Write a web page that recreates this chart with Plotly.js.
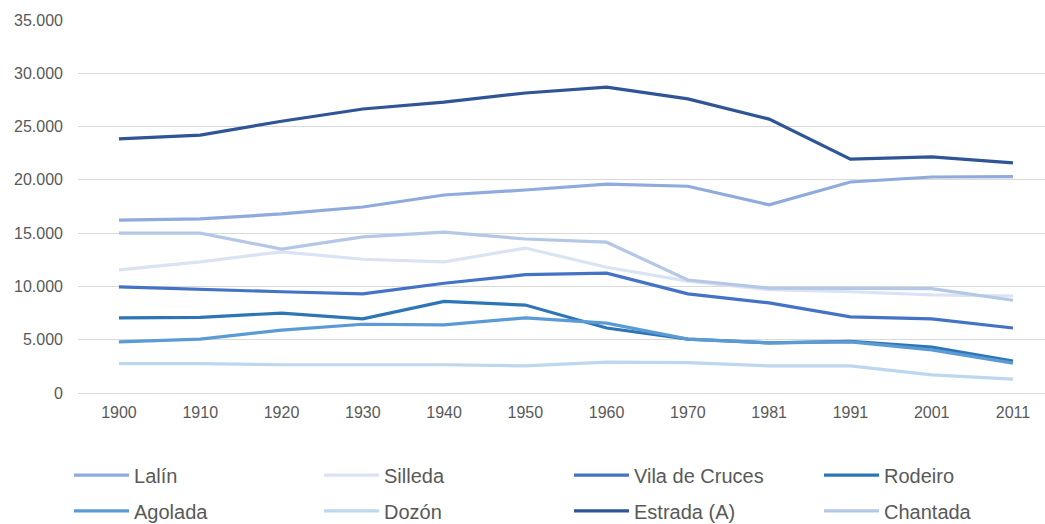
<!DOCTYPE html>
<html>
<head>
<meta charset="utf-8">
<script src="https://cdn.plot.ly/plotly-3.0.1.min.js"></script>
<style>html,body{margin:0;padding:0;background:#fff;}#chart{width:1045px;height:524px;}</style>
</head>
<body>
<div id="chart"></div>
<script>
const years = ['1900','1910','1920','1930','1940','1950','1960','1970','1981','1991','2001','2011'];
const lalin      = [16230,16330,16800,17450,18580,19050,19600,19400,17650,19800,20270,20300];
const silleda    = [11550,12300,13250,12550,12300,13600,11800,10500,9700,9500,9200,9100];
const vilaCruces = [9950,9700,9500,9300,10300,11100,11250,9300,8450,7150,6950,6100];
const rodeiro    = [7050,7100,7500,6950,8600,8250,6100,5050,4700,4850,4300,3000];
const agolada    = [4800,5050,5900,6450,6400,7050,6550,5050,4700,4800,4050,2800];
const dozon      = [2750,2750,2650,2650,2650,2550,2900,2850,2550,2550,1700,1300];
const estrada    = [23850,24200,25500,26650,27300,28150,28700,27600,25700,21950,22150,21600];
const chantada   = [15000,15000,13500,14650,15100,14450,14150,10600,9850,9850,9800,8700];

const names  = ['Lalín','Silleda','Vila de Cruces','Rodeiro','Agolada','Dozón','Estrada (A)','Chantada'];
const series = [lalin,silleda,vilaCruces,rodeiro,agolada,dozon,estrada,chantada];
const colors = ['#8FAADC','#DAE3F3','#4472C4','#2E75B6','#5B9BD5','#BDD7EE','#2F5597','#B4C7E7'];
const traces = series.map((s,i)=>({
  type:'scatter', mode:'lines', x:years, y:s, name:names[i],
  line:{color:colors[i], width:3.2},
  legend: i<4 ? 'legend' : 'legend2',
  hoverinfo:'skip'
}));

const legendFont = {family:'Liberation Sans, Arial, sans-serif', size:20, color:'#595959'};
const legendBase = {orientation:'h', x:-0.0093, xanchor:'left', yanchor:'middle',
          entrywidth:180, entrywidthmode:'pixels', itemwidth:55, font:legendFont, bgcolor:'rgba(0,0,0,0)'};
const layout = {
  width:1045, height:524,
  margin:{l:78, r:0, t:20, b:131, autoexpand:false},
  paper_bgcolor:'#fff', plot_bgcolor:'#fff',
  separators:',.',
  font:{family:'Liberation Sans, Arial, sans-serif', color:'#595959'},
  xaxis:{type:'category', range:[-0.504,11.394], showgrid:false, zeroline:false, showline:false,
         ticks:'', tickfont:{size:16,color:'#595959'}, ticklabelstandoff:8, automargin:false},
  yaxis:{range:[0,35000], dtick:5000, tickformat:',', showgrid:true, gridcolor:'#D9D9D9', gridwidth:1,
         zeroline:true, zerolinecolor:'#D9D9D9', zerolinewidth:1, showline:false, ticks:'',
         tickfont:{size:16,color:'#595959'}, ticklabelstandoff:14, automargin:false},
  showlegend:true,
  legend:Object.assign({y:-0.22}, legendBase),
  legend2:Object.assign({y:-0.316}, legendBase)
};
Plotly.newPlot('chart', traces, layout, {displayModeBar:false, staticPlot:true});
</script>
</body>
</html>
